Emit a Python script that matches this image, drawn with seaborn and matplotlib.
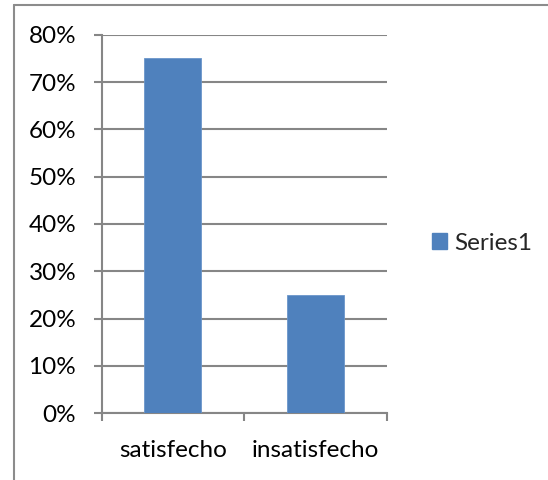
import matplotlib
matplotlib.use("Agg")
import matplotlib.pyplot as plt
from matplotlib.lines import Line2D
from matplotlib.patches import Patch
from matplotlib.ticker import FixedLocator, PercentFormatter
import seaborn as sns
import pandas as pd

categories = ["satisfecho", "insatisfecho"]
values = [0.75, 0.25]
series_name = "Series1"
y_ticks = [0.0, 0.1, 0.2, 0.3, 0.4, 0.5, 0.6, 0.7, 0.8]

bar_color = "#4F81BD"
grid_color = "#868686"
font_size = 17.5

sns.set_theme(style="white")
plt.rcParams["font.family"] = ["Lato", "DejaVu Sans"]

W, H, DPI = 548, 480, 100
fig = plt.figure(figsize=(W / DPI, H / DPI), dpi=DPI)
fig.patch.set_facecolor("white")

# plot area in pixel coordinates
x0, x1 = 101.7, 386.7
y_top, y_bot = 34.7, 413.3
ax = fig.add_axes([x0 / W, 1 - y_bot / H, (x1 - x0) / W, (y_bot - y_top) / H])

df = pd.DataFrame({"category": categories, "value": values})
sns.barplot(data=df, x="category", y="value", color=bar_color, width=0.4,
            saturation=1, edgecolor="#6B96CA", linewidth=0.6, ax=ax, zorder=3)

ax.set_xlim(-0.5, len(categories) - 0.5)
ax.set_ylim(0, 0.8)
ax.set_xlabel("")
ax.set_ylabel("")

ax.yaxis.set_major_locator(FixedLocator(y_ticks))
ax.yaxis.set_major_formatter(PercentFormatter(1.0, decimals=0))
ax.grid(axis="y", color=grid_color, linewidth=1.5, zorder=0)
ax.grid(axis="x", visible=False)

for side in ["top", "right"]:
    ax.spines[side].set_visible(False)
for side in ["left", "bottom"]:
    ax.spines[side].set_color(grid_color)
    ax.spines[side].set_linewidth(1.5)

ax.tick_params(axis="y", which="major", left=True, length=5.8, width=1.5,
               color=grid_color, pad=12.5, labelsize=font_size, labelcolor="black")
# category labels centred under bars, tick marks on category boundaries
ax.tick_params(axis="x", which="major", bottom=False, pad=13,
               labelsize=font_size, labelcolor="black")
ax.set_xticks([i - 0.5 for i in range(len(categories) + 1)], minor=True)
ax.tick_params(axis="x", which="minor", bottom=True, length=5.8, width=1.5,
               color=grid_color)

handle = Patch(facecolor=bar_color, edgecolor=bar_color, label=series_name)
fig.legend(handles=[handle], loc="center left",
           bbox_to_anchor=(422 / W, 1 - 243 / H), frameon=False,
           fontsize=font_size, handlelength=0.62, handleheight=0.62,
           handletextpad=0.3, borderaxespad=0)

# chart frame: left and top edges
fig.add_artist(Line2D([14 / W, 14 / W], [0, 1 - 5.3 / H], color="#8C8C8C", linewidth=1.5,
                      transform=fig.transFigure))
fig.add_artist(Line2D([14 / W, 1], [1 - 5.3 / H, 1 - 5.3 / H], color="#8C8C8C", linewidth=1.5,
                      transform=fig.transFigure))

fig.savefig("out.png", dpi=DPI, facecolor="white")
